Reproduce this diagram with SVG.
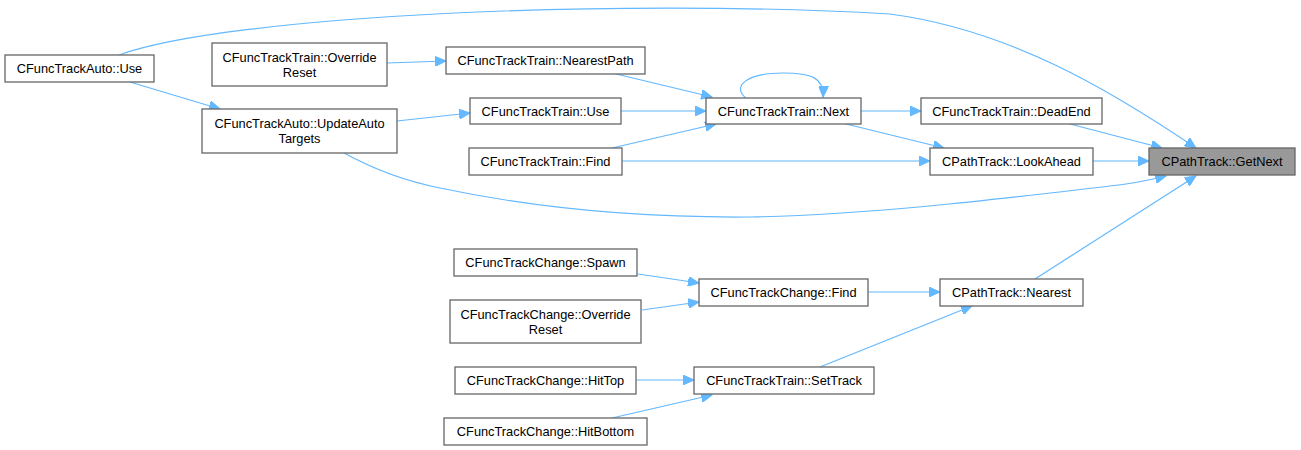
<svg xmlns="http://www.w3.org/2000/svg" width="1301" height="450" viewBox="0 0 1301 450">
<defs>
<marker id="ah" markerUnits="userSpaceOnUse" markerWidth="12" markerHeight="10" refX="11" refY="5" orient="auto">
<polygon points="0,0 11,5 0,10" fill="#63b8ff" stroke="#63b8ff" stroke-width="1"/>
</marker>
<style>
.n rect{fill:#fff;stroke:#666;stroke-width:1.3}
.n.hl rect{fill:#999}
.n text{font-family:"Liberation Sans",Arial,sans-serif;font-size:12.8px;fill:#000;text-anchor:middle}
#edges path{fill:none;stroke:#63b8ff;stroke-width:1.2;marker-end:url(#ah)}
</style>
</defs>
<rect width="1301" height="450" fill="#fff"/>
<g id="edges">
<path d="M119,55 C230,15 620,-2 890,14 C1010,30 1110,90 1196,148"/>
<path d="M130,82 L220,109"/>
<path d="M387,63 L446,61"/>
<path d="M397,121 L470,113"/>
<path d="M344,153 C375,170 405,181 440,188 C520,205 620,218 750,217 C880,215 1040,194 1110,186 C1130,184 1150,180 1166,176"/>
<path d="M612,73 L712,97"/>
<path d="M621,111 L706,111"/>
<path d="M612,148 L716,124"/>
<path d="M622,161 L930,161"/>
<path d="M746,98 C732,87 745,73 783,73 C812,73 824,78 823,97"/>
<path d="M861,111 L921,111"/>
<path d="M846,124 L944,148"/>
<path d="M1070,124 L1162,148"/>
<path d="M1093,161 L1149,161"/>
<path d="M1035,279 L1196,176"/>
<path d="M638,274 L699,283"/>
<path d="M642,310 L699,302"/>
<path d="M868,292 L940,292"/>
<path d="M636,380 L694,380"/>
<path d="M612,418 L712,395"/>
<path d="M820,367 L972,306"/>
</g>
<g id="n_auto_use" class="n"><rect x="5" y="55" width="149" height="27"/><text x="79.5" y="73">CFuncTrackAuto::Use</text></g>
<g id="n_train_override" class="n"><rect x="212" y="43" width="175" height="43"/><text x="299.5" y="61.5">CFuncTrackTrain::Override</text><text x="299.5" y="76.5">Reset</text></g>
<g id="n_auto_update" class="n"><rect x="202" y="109" width="195" height="44"/><text x="299.5" y="127.5">CFuncTrackAuto::UpdateAuto</text><text x="299.5" y="142.5">Targets</text></g>
<g id="n_nearestpath" class="n"><rect x="446" y="47" width="199" height="27"/><text x="545.5" y="65">CFuncTrackTrain::NearestPath</text></g>
<g id="n_train_use" class="n"><rect x="470" y="98" width="151" height="26"/><text x="545.5" y="115.5">CFuncTrackTrain::Use</text></g>
<g id="n_train_find" class="n"><rect x="469" y="148" width="153" height="27"/><text x="545.5" y="166">CFuncTrackTrain::Find</text></g>
<g id="n_next" class="n"><rect x="706" y="98" width="155" height="26"/><text x="783.5" y="115.5">CFuncTrackTrain::Next</text></g>
<g id="n_deadend" class="n"><rect x="921" y="98" width="181" height="26"/><text x="1011.5" y="115.5">CFuncTrackTrain::DeadEnd</text></g>
<g id="n_lookahead" class="n"><rect x="930" y="148" width="163" height="27"/><text x="1011.5" y="166">CPathTrack::LookAhead</text></g>
<g id="n_getnext" class="n hl"><rect x="1149" y="148" width="146" height="27"/><text x="1222" y="166">CPathTrack::GetNext</text></g>
<g id="n_change_spawn" class="n"><rect x="454" y="249" width="183" height="27"/><text x="545.5" y="267">CFuncTrackChange::Spawn</text></g>
<g id="n_change_override" class="n"><rect x="450" y="300" width="191" height="43"/><text x="545.5" y="318.5">CFuncTrackChange::Override</text><text x="545.5" y="333.5">Reset</text></g>
<g id="n_hittop" class="n"><rect x="455" y="367" width="181" height="27"/><text x="545.5" y="385">CFuncTrackChange::HitTop</text></g>
<g id="n_hitbottom" class="n"><rect x="444" y="418" width="203" height="27"/><text x="545.5" y="436">CFuncTrackChange::HitBottom</text></g>
<g id="n_change_find" class="n"><rect x="699" y="279" width="169" height="27"/><text x="783.5" y="297">CFuncTrackChange::Find</text></g>
<g id="n_settrack" class="n"><rect x="694" y="367" width="180" height="27"/><text x="784" y="385">CFuncTrackTrain::SetTrack</text></g>
<g id="n_nearest" class="n"><rect x="940" y="279" width="143" height="27"/><text x="1011.5" y="297">CPathTrack::Nearest</text></g>
</svg>
